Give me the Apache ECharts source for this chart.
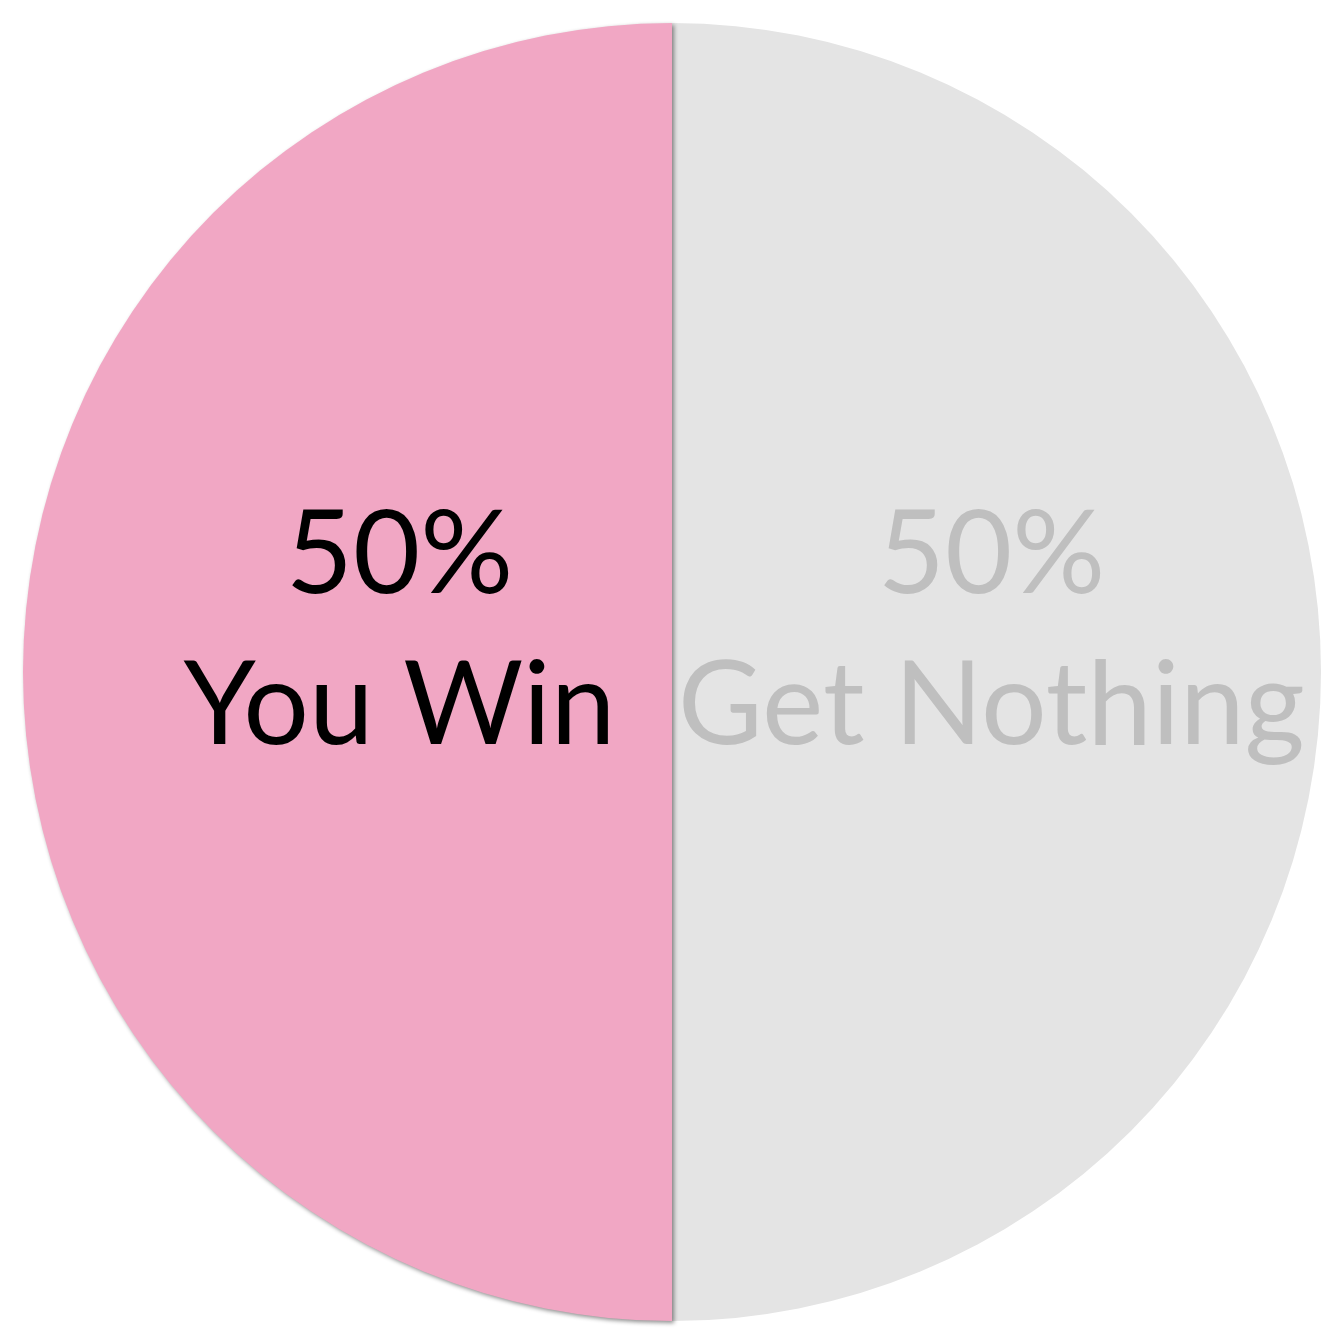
<!DOCTYPE html>
<html><head><meta charset="utf-8">
<script src="https://cdn.jsdelivr.net/npm/echarts@6/dist/echarts.min.js"></script>
<style>html,body{margin:0;padding:0;background:#fff}#c{width:1344px;height:1344px}</style>
</head><body><div id="c"></div>
<script>
const categories = ['Get Nothing', 'You Win'];
const values = [50, 50];
const colors = ['#E4E4E4', '#F1A7C4'];
const textColors = ['#BFBFBF', '#000000'];
const labelShift = [[-8, -41], [55, -41]];

const chart = echarts.init(document.getElementById('c'), null, {renderer: 'canvas'});
chart.setOption({
  animation: false,
  series: [{
    type: 'pie',
    center: [672, 672],
    radius: 649,
    startAngle: 90,
    clockwise: true,
    data: categories.map((n, i) => ({
      name: n, value: values[i],
      itemStyle: i === 1 ? {color: colors[i], shadowColor: 'rgba(0,0,0,0.45)', shadowBlur: 4, shadowOffsetX: 2, shadowOffsetY: 2} : {color: colors[i]},
      label: {color: textColors[i]}
    })),
    label: {
      show: true,
      position: 'inside',
      formatter: p => p.percent + '%\n' + p.name,
      fontFamily: 'Lato',
      fontSize: 116,
      lineHeight: 151,
      align: 'center'
    },
    labelLine: {show: false},
    labelLayout: p => ({dx: labelShift[p.dataIndex][0], dy: labelShift[p.dataIndex][1]})
  }]
});
</script></body></html>
